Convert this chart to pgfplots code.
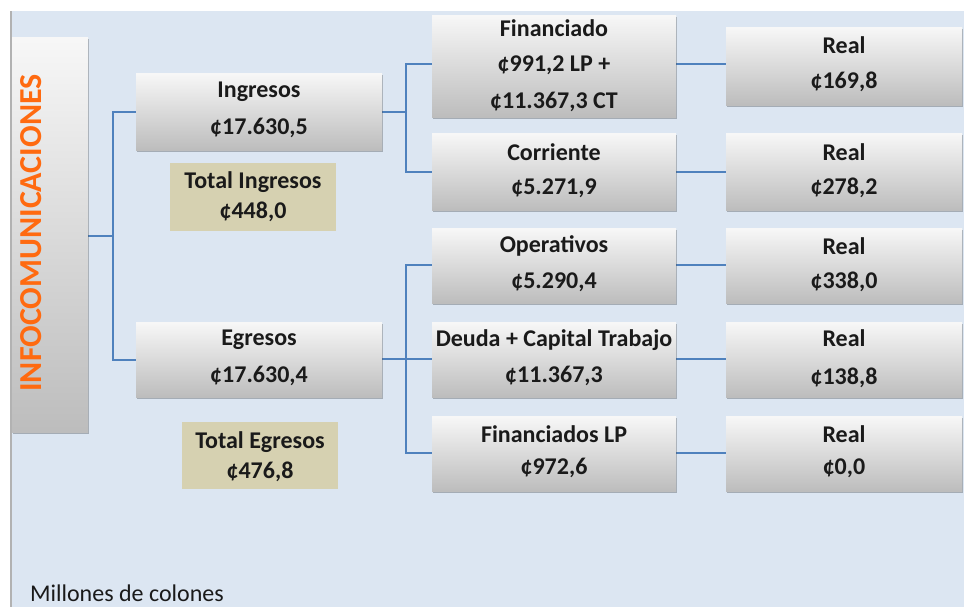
\documentclass[border=0pt]{standalone}
\usepackage{pgfplots}
\pgfplotsset{compat=1.18}
\usepackage{fontspec}
\setmainfont{Carlito}
\definecolor{panel}{HTML}{DCE6F2}
\definecolor{conn}{HTML}{4F81BD}
\definecolor{tan}{HTML}{D6D1B1}
\definecolor{orng}{HTML}{FF6A10}
\definecolor{txt}{HTML}{1A1A1A}
\newcommand{\gbox}[4]{%
  \addplot[draw=none, fill=black, fill opacity=0.25] coordinates {(#1+1,#2+2) (#3+1,#2+2) (#3+1,#4+2) (#1+1,#4+2)};
  \addplot[draw=none, top color=white!97!black, bottom color=white!74!black] coordinates {(#1,#2) (#3,#2) (#3,#4) (#1,#4)};
}
\newcommand{\tbox}[4]{%
  \addplot[draw=none, fill=tan] coordinates {(#1,#2) (#3,#2) (#3,#4) (#1,#4)};
}
\begin{document}
\begin{tikzpicture}
\begin{axis}[
  scale only axis, width=482pt, height=303.5pt,
  xmin=0, xmax=964, ymin=0, ymax=607, y dir=reverse,
  hide axis, clip=false,
  every axis plot/.append style={line join=miter},
]
% background
\addplot[draw=none, fill=white] coordinates {(0,0) (964,0) (964,607) (0,607)};
\addplot[draw=none, fill=panel] coordinates {(11,11) (964,11) (964,607) (11,607)};
\addplot[draw=black!30, line width=0.8pt] coordinates {(11,11) (11,607)};

% connectors
\addplot[conn, line width=1pt] coordinates {(88,236) (113,236)};
\addplot[conn, line width=1pt] coordinates {(136,112) (113,112) (113,360) (136,360)};
\addplot[conn, line width=1pt] coordinates {(382,112) (406,112)};
\addplot[conn, line width=1pt] coordinates {(432,64) (406,64) (406,172) (432,172)};
\addplot[conn, line width=1pt] coordinates {(382,359) (432,359)};
\addplot[conn, line width=1pt] coordinates {(432,265) (406,265) (406,453) (432,453)};
\addplot[conn, line width=1pt] coordinates {(676,64) (726,64)};
\addplot[conn, line width=1pt] coordinates {(676,172) (726,172)};
\addplot[conn, line width=1pt] coordinates {(676,265) (726,265)};
\addplot[conn, line width=1pt] coordinates {(676,359) (726,359)};
\addplot[conn, line width=1pt] coordinates {(676,453) (726,453)};

% boxes
\gbox{12}{37}{88}{432}
\gbox{136}{73}{382}{150}
\gbox{136}{322}{382}{397}
\tbox{170}{163}{336}{231}
\tbox{182}{422}{338}{489}
\gbox{432}{15}{676}{117}
\gbox{432}{133}{676}{210}
\gbox{432}{228}{676}{303}
\gbox{432}{322}{676}{397}
\gbox{432}{416}{676}{491}
\gbox{726}{27}{962}{105}
\gbox{726}{133}{962}{210}
\gbox{726}{228}{962}{303}
\gbox{726}{322}{962}{397}
\gbox{726}{416}{962}{491}

% texts
\node[rotate=90, text=orng, font=\fontsize{16}{18}\selectfont\bfseries] at (axis cs:31,233) {INFOCOMUNICACIONES};
\begin{scope}[every node/.style={text=txt, font=\fontsize{12}{14}\selectfont\bfseries}]
\node at (axis cs:259,92) {Ingresos};
\node at (axis cs:259,128) {¢17.630,5};
\node at (axis cs:253,182) {Total Ingresos};
\node at (axis cs:253,212) {¢448,0};
\node at (axis cs:259,340) {Egresos};
\node at (axis cs:259,376) {¢17.630,4};
\node at (axis cs:260,442) {Total Egresos};
\node at (axis cs:260,472) {¢476,8};
\node at (axis cs:554,28) {Financiado};
\node at (axis cs:554,65) {¢991,2 LP +};
\node at (axis cs:554,102) {¢11.367,3 CT};
\node at (axis cs:554,152) {Corriente};
\node at (axis cs:554,188) {¢5.271,9};
\node at (axis cs:554,246) {Operativos};
\node at (axis cs:554,282) {¢5.290,4};
\node at (axis cs:554,340) {Deuda + Capital Trabajo};
\node at (axis cs:554,376) {¢11.367,3};
\node at (axis cs:554,434) {Financiados LP};
\node at (axis cs:554,468) {¢972,6};
\node at (axis cs:844,45) {Real};
\node at (axis cs:844,82) {¢169,8};
\node at (axis cs:844,152) {Real};
\node at (axis cs:844,188) {¢278,2};
\node at (axis cs:844,246) {Real};
\node at (axis cs:844,282) {¢338,0};
\node at (axis cs:844,338) {Real};
\node at (axis cs:844,378) {¢138,8};
\node at (axis cs:844,434) {Real};
\node at (axis cs:844,468) {¢0,0};
\end{scope}
\node[anchor=west, text=txt, font=\fontsize{12}{14}\selectfont] at (axis cs:23,593) {Millones de colones};
\end{axis}
\end{tikzpicture}
\end{document}
